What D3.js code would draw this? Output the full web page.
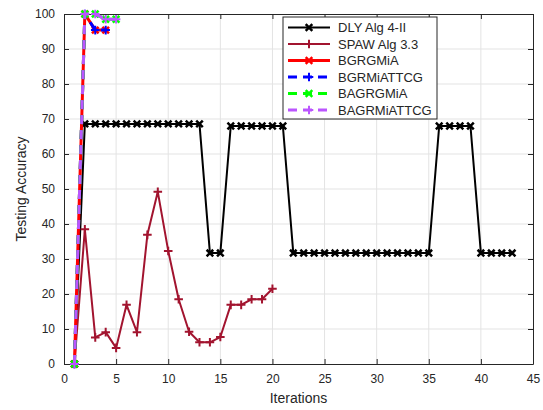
<!DOCTYPE html>
<html>
<head>
<meta charset="utf-8">
<script src="https://cdn.jsdelivr.net/npm/d3@7"></script>
<style>
  body { margin: 0; background: #fff; }
  text { font-family: "Liberation Sans", Arial, sans-serif; fill: #262626; }
</style>
</head>
<body>
<div id="drawing_region"></div>
<script>
// Series values (x = iteration, y = accuracy)
const dlyX  = d3.range(1, 44);
const dlyY  = [0, 68.6, 68.6, 68.6, 68.6, 68.6, 68.6, 68.6, 68.6, 68.6, 68.6, 68.6, 68.6,
               31.7, 31.7, 68.0, 68.0, 68.0, 68.0, 68.0, 68.0,
               31.7, 31.7, 31.7, 31.7, 31.7, 31.7, 31.7, 31.7, 31.7, 31.7, 31.7, 31.7, 31.7, 31.7,
               68.0, 68.0, 68.0, 68.0, 31.7, 31.7, 31.7, 31.7];
const spawX = d3.range(1, 21);
const spawY = [0, 38.5, 7.6, 9.1, 4.6, 16.9, 9.1, 36.9, 49.2, 32.3, 18.5, 9.2, 6.2, 6.2, 7.7,
               16.9, 16.9, 18.5, 18.5, 21.5];
const bgX   = [1, 2, 3, 4];
const bgrgY = [0, 100, 95.4, 95.4];
const bgrmY = [0, 100, 95.4, 95.4];
const baX   = [1, 2, 3, 4, 5];
const bagrY = [0, 100, 100, 98.5, 98.5];
const bagmY = [0, 100, 100, 98.5, 98.5];

const seriesNames = ["DLY Alg 4-II", "SPAW Alg 3.3", "BGRGMiA", "BGRMiATTCG", "BAGRGMiA", "BAGRMiATTCG"];
const xTicks = [0, 5, 10, 15, 20, 25, 30, 35, 40, 45];
const yTicks = [0, 10, 20, 30, 40, 50, 60, 70, 80, 90, 100];

const series = [
  { name: seriesNames[0], xs: dlyX,  ys: dlyY,  color: "#000000", width: 2,   dash: null,  marker: "x" },
  { name: seriesNames[1], xs: spawX, ys: spawY, color: "#A2142F", width: 2,   dash: null,  marker: "+" },
  { name: seriesNames[2], xs: bgX,   ys: bgrgY, color: "#FF0000", width: 3,   dash: null,  marker: "x" },
  { name: seriesNames[3], xs: bgX,   ys: bgrmY, color: "#0000FF", width: 3,   dash: "9,6", marker: "+" },
  { name: seriesNames[4], xs: baX,   ys: bagrY, color: "#00FF00", width: 3,   dash: "9,6", marker: "x" },
  { name: seriesNames[5], xs: baX,   ys: bagmY, color: "#BB55FF", width: 3,   dash: "9,6", marker: "+" }
];

const config = {
  width: 543, height: 410,
  margin: { top: 14, right: 10, bottom: 46, left: 64 }
};
const innerW = config.width - config.margin.left - config.margin.right;
const innerH = config.height - config.margin.top - config.margin.bottom;

const svg = d3.select("#drawing_region").append("svg")
  .attr("width", config.width)
  .attr("height", config.height);

const chart = svg.append("g")
  .attr("transform", `translate(${config.margin.left}, ${config.margin.top})`);

const xscale = d3.scaleLinear().domain([0, 45]).range([0, innerW]);
const yscale = d3.scaleLinear().domain([0, 100]).range([innerH, 0]);

// grid
chart.append("g").selectAll("line.gx")
  .data(xTicks.slice(1, -1)).join("line")
  .attr("x1", d => xscale(d)).attr("x2", d => xscale(d))
  .attr("y1", 0).attr("y2", innerH)
  .attr("stroke", "#e3e3e3").attr("stroke-width", 1);
chart.append("g").selectAll("line.gy")
  .data(yTicks.slice(1, -1)).join("line")
  .attr("x1", 0).attr("x2", innerW)
  .attr("y1", d => yscale(d)).attr("y2", d => yscale(d))
  .attr("stroke", "#e3e3e3").attr("stroke-width", 1);

// axes (ticks inside, mirrored on top/right)
const tickLen = 5;
const xaxis = d3.axisBottom(xscale).tickValues(xTicks).tickSizeInner(-tickLen).tickSizeOuter(0).tickPadding(10);
const yaxis = d3.axisLeft(yscale).tickValues(yTicks).tickSizeInner(-tickLen).tickSizeOuter(0).tickPadding(9);
const xaxisTop = d3.axisTop(xscale).tickValues(xTicks).tickSizeInner(-tickLen).tickSizeOuter(0).tickFormat("");
const yaxisRight = d3.axisRight(yscale).tickValues(yTicks).tickSizeInner(-tickLen).tickSizeOuter(0).tickFormat("");

const styleAxis = g => {
  g.selectAll("path.domain").attr("stroke", "#262626").attr("stroke-width", 1);
  g.selectAll(".tick line").attr("stroke", "#262626");
  g.selectAll(".tick text").style("font-size", "12px").attr("fill", "#262626");
};

chart.append("g").attr("transform", `translate(0, ${innerH})`).call(xaxis).call(styleAxis);
chart.append("g").call(yaxis).call(styleAxis);
chart.append("g").call(xaxisTop).call(styleAxis);
chart.append("g").attr("transform", `translate(${innerW}, 0)`).call(yaxisRight).call(styleAxis);

// markers
function markerPath(type, s) {
  if (type === "x") return `M${-s},${-s}L${s},${s}M${-s},${s}L${s},${-s}`;
  return `M${-s * 1.3},0L${s * 1.3},0M0,${-s * 1.3}L0,${s * 1.3}`;
}

const line = d3.line().x(d => xscale(d[0])).y(d => yscale(d[1]));

series.forEach(s => {
  const pts = s.xs.map((x, i) => [x, s.ys[i]]);
  const g = chart.append("g");
  g.append("path")
    .attr("d", line(pts))
    .attr("fill", "none")
    .attr("stroke", s.color)
    .attr("stroke-width", s.width)
    .attr("stroke-dasharray", s.dash)
    .attr("stroke-linejoin", "round");
  g.selectAll("path.m").data(pts).join("path")
    .attr("class", "m")
    .attr("transform", d => `translate(${xscale(d[0])}, ${yscale(d[1])})`)
    .attr("d", markerPath(s.marker, 3.3))
    .attr("fill", "none")
    .attr("stroke", s.color)
    .attr("stroke-width", s.marker === "x" ? 2.5 : 2);
});

// axis labels
svg.append("text")
  .attr("x", config.margin.left + innerW / 2)
  .attr("y", 403)
  .attr("text-anchor", "middle")
  .style("font-size", "14px")
  .text("Iterations");

svg.append("text")
  .attr("transform", `translate(26, ${config.margin.top + innerH / 2}) rotate(-90)`)
  .attr("text-anchor", "middle")
  .style("font-size", "14px")
  .text("Testing Accuracy");

// legend
const legend = svg.append("g").attr("transform", "translate(283, 17)");
legend.append("rect")
  .attr("width", 154).attr("height", 102)
  .attr("fill", "#fff").attr("stroke", "#262626").attr("stroke-width", 1);

series.forEach((s, i) => {
  const y = 10.5 + i * 16.5;
  const row = legend.append("g").attr("transform", `translate(0, ${y})`);
  row.append("line")
    .attr("x1", 5).attr("x2", 47).attr("y1", 0).attr("y2", 0)
    .attr("stroke", s.color)
    .attr("stroke-width", s.width)
    .attr("stroke-dasharray", s.dash);
  row.append("path")
    .attr("transform", "translate(26, 0)")
    .attr("d", markerPath(s.marker, 3.3))
    .attr("fill", "none")
    .attr("stroke", s.color)
    .attr("stroke-width", s.marker === "x" ? 2.5 : 2);
  row.append("text")
    .attr("x", 55).attr("y", 0)
    .attr("dy", "0.36em")
    .style("font-size", "13px")
    .attr("fill", "#000")
    .text(s.name);
});
</script>
</body>
</html>
